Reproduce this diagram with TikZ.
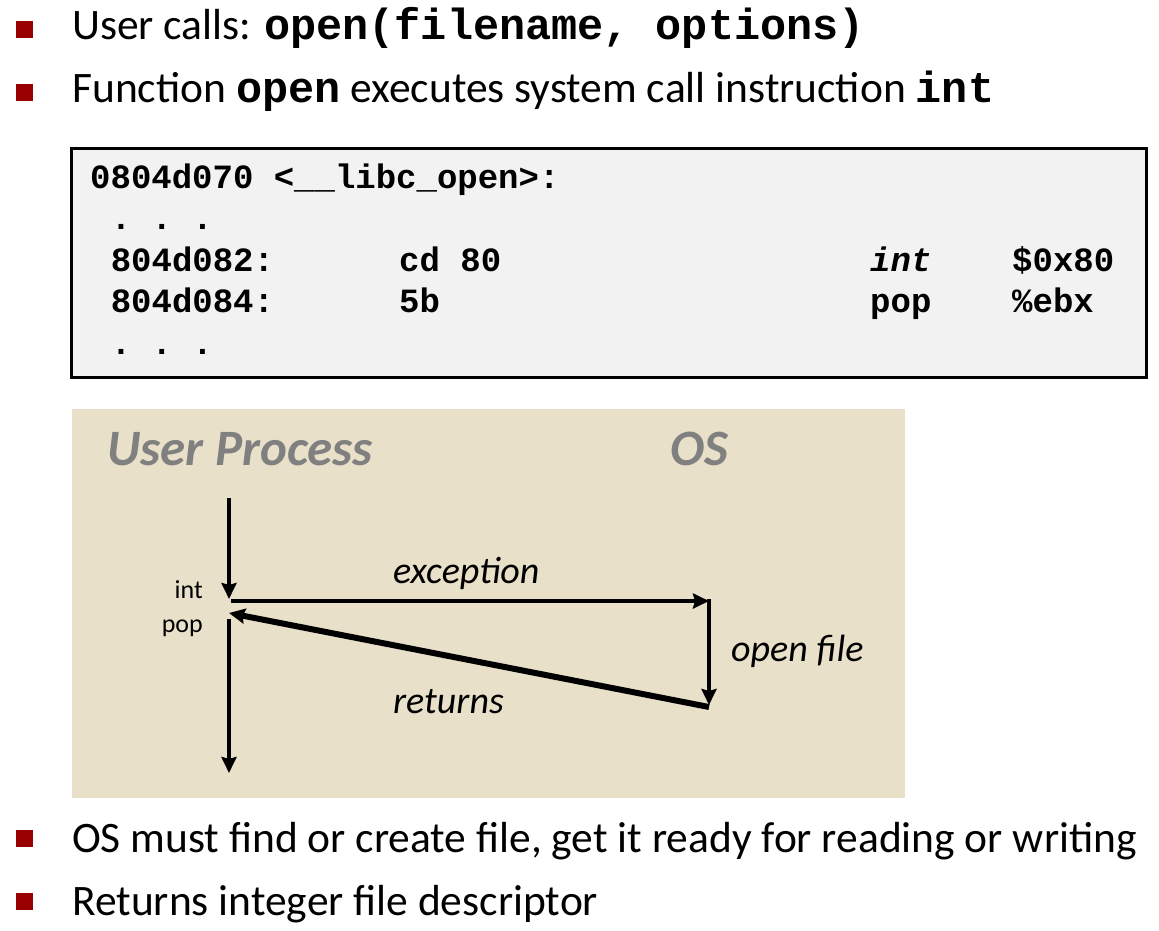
\documentclass[tikz,border=0pt]{standalone}
\usepackage{fontspec}
\setmainfont{Carlito}
\setmonofont{Liberation Mono}
\usetikzlibrary{arrows.meta}
\definecolor{bulletred}{RGB}{153,0,0}
\definecolor{panelbeige}{RGB}{232,224,201}
\definecolor{codegray}{RGB}{242,242,242}
\definecolor{lanegray}{RGB}{128,128,128}

\begin{document}
\begin{tikzpicture}[x=1pt,y=-1pt,
    bullet/.style={fill=bulletred,minimum size=17pt,inner sep=0pt},
    item/.style={anchor=base west,inner sep=0pt,font=\fontsize{43.5}{52}\selectfont},
    code/.style={anchor=base west,inner sep=0pt,font=\fontsize{34}{41}\selectfont\ttfamily\bfseries},
    lane/.style={anchor=base west,inner sep=0pt,text=lanegray,font=\fontsize{51}{61}\selectfont\bfseries\itshape},
    flowlabel/.style={anchor=base west,inner sep=0pt,font=\fontsize{38}{46}\selectfont\itshape},
    instr/.style={anchor=base east,inner sep=0pt,font=\fontsize{26}{31}\selectfont},
    flowarrow/.style={draw,line width=#1,-{Stealth[length=16pt,width=15pt,inset=2pt]}}]
       \useasboundingbox (0,0) rectangle (1159,931);
       \node at (24,30) [bullet] (b1) {};
       \node at (72,40) [item] (t1) {User calls: \texttt{\bfseries open(filename, options)}};
       \node at (24,93) [bullet] (b2) {};
       \node at (72,103) [item] (t2) {Function \texttt{\bfseries open} executes system call instruction \texttt{\bfseries int}};
       \draw[line width=3pt,fill=codegray] (71.5,148.5) rectangle (1146,377);
       \node at (90,188) [code] (c1) {0804d070 <\_\_libc\_open>:};
       \node at (110.6,229) [code] (c2) {. . .};
       \node at (110.6,271) [code] (c3) {804d082:};
       \node at (399,271) [code] (c4) {cd 80};
       \node at (870,271) [code] (c5) {\itshape int};
       \node at (1012,271) [code] (c6) {\$0x80};
       \node at (110.6,312) [code] (c7) {804d084:};
       \node at (399,312) [code] (c8) {5b};
       \node at (870,312) [code] (c9) {pop};
       \node at (1012,312) [code] (c10) {\%ebx};
       \node at (110.6,354) [code] (c11) {. . .};
       \fill[panelbeige] (72,409) rectangle (905,798);
       \node at (107,465) [lane] (user) {User Process};
       \node at (670,465) [lane] (os) {OS};
       \coordinate (start) at (229,498);
       \coordinate (trap) at (229,599);
       \coordinate (excstart) at (231,601);
       \coordinate (osin) at (709,601);
       \coordinate (osdone) at (709,705);
       \coordinate (osout) at (709,707);
       \coordinate (resume) at (229,613);
       \coordinate (popstart) at (229,619);
       \coordinate (finish) at (229,773);
       \draw[flowarrow=4pt] (start) -- (trap);
       \draw[flowarrow=4.5pt] (excstart) -- (osin);
       \draw[flowarrow=4.5pt] ([yshift=2pt]osin) -- (osdone);
       \draw[flowarrow=6pt] (osout) -- (resume);
       \draw[flowarrow=4pt] (popstart) -- (finish);
       \node at (203,598) [instr] (int) {int};
       \node at (203,632) [instr] (pop) {pop};
       \node at (393,583) [flowlabel] (exc) {exception};
       \node at (731,661) [flowlabel] (open) {open file};
       \node at (393,713) [flowlabel] (ret) {returns};
       \node at (24,838) [bullet] (b3) {};
       \node at (72,852) [item] (t3) {OS must find or create file, get it ready for reading or writing};
       \node at (24,901) [bullet] (b4) {};
       \node at (72,915) [item] (t4) {Returns integer file descriptor};
      \end{tikzpicture}
\end{document}
